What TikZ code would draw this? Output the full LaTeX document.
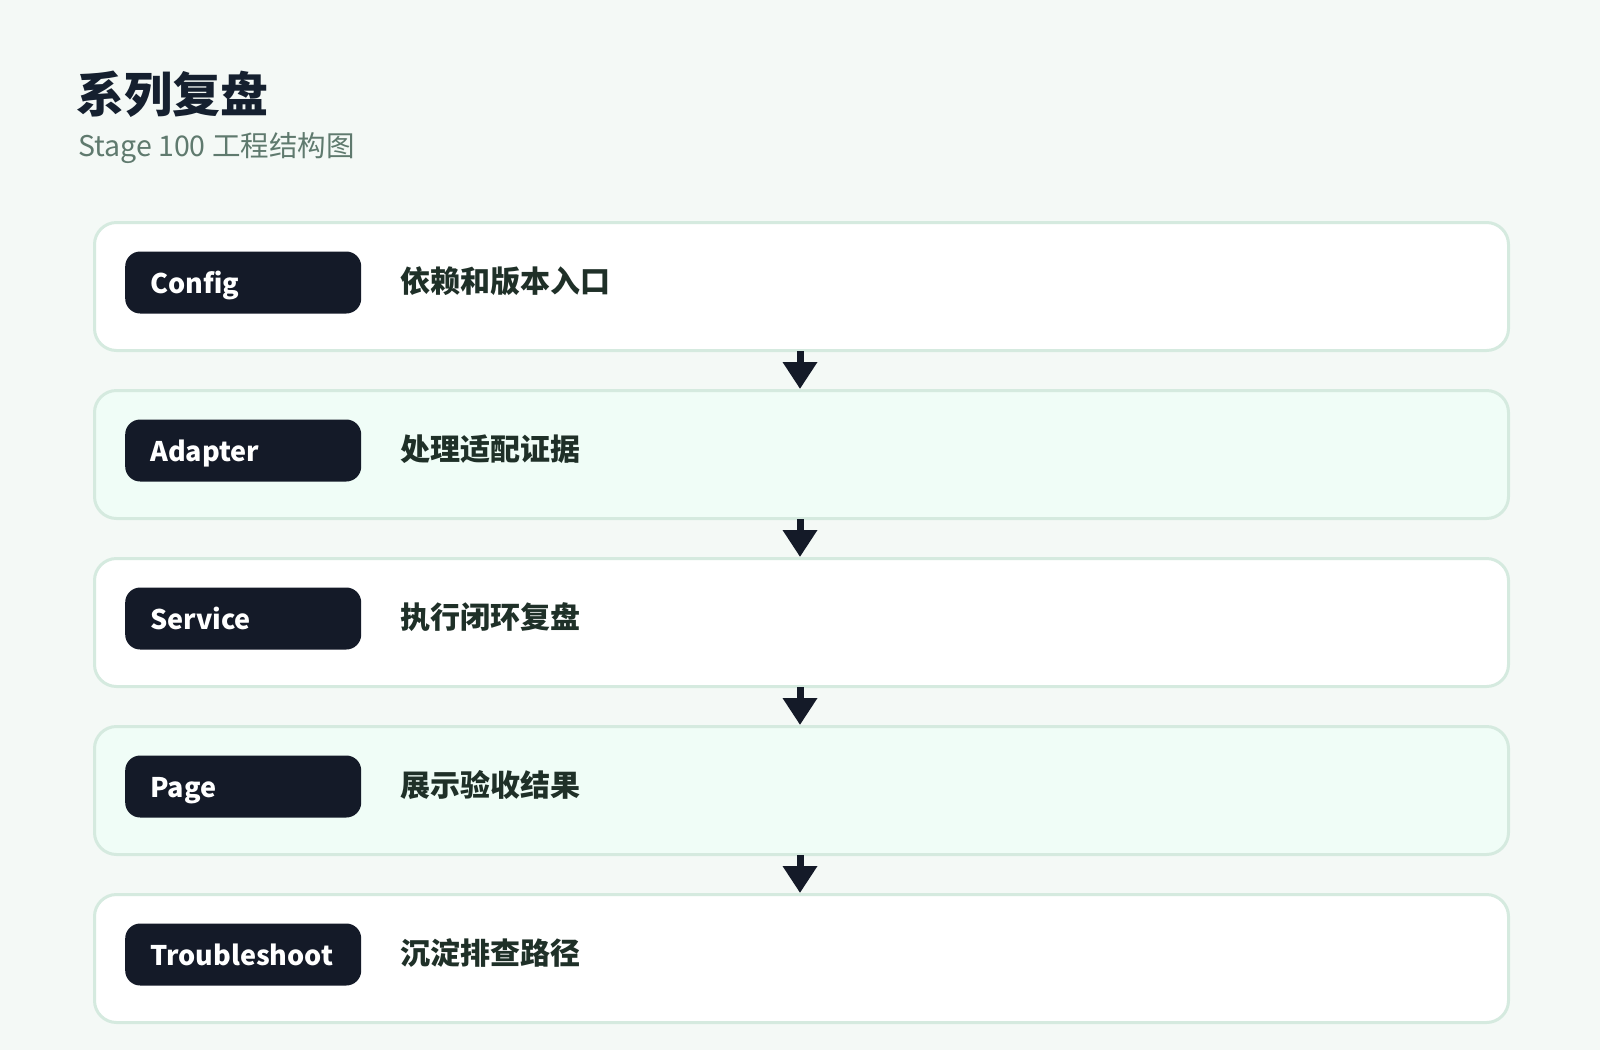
\documentclass[tikz,border=0pt]{standalone}
\usepackage{fontspec}
\setmainfont{Noto Sans CJK SC}
\usetikzlibrary{arrows.meta}
\definecolor{bg}{HTML}{F4F9F6}
\definecolor{cardA}{HTML}{FFFFFF}
\definecolor{cardB}{HTML}{F0FDF7}
\definecolor{cardline}{HTML}{D5EADF}
\definecolor{pillc}{HTML}{141A28}
\definecolor{titlec}{HTML}{15202F}
\definecolor{subc}{HTML}{5F7A6E}
\definecolor{descc}{HTML}{1F3028}
\tikzset{
  card/.style={draw=cardline, line width=3pt, rounded corners=22pt, minimum width=1414pt, minimum height=128pt, anchor=north west, inner sep=0pt},
  pill/.style={fill=pillc, rounded corners=15pt, minimum width=236pt, minimum height=62pt, anchor=west, inner sep=0pt},
  pilltext/.style={text=white, font=\fontsize{27}{32}\selectfont\bfseries, anchor=base west, inner sep=0pt},
  desc/.style={text=descc, font=\fontsize{30}{34}\selectfont\bfseries, anchor=base west, inner sep=0pt},
  flow/.style={draw=pillc, line width=7pt, -{Triangle[width=33pt,length=27pt]}, shorten <=-1pt},
}
\begin{document}
\begin{tikzpicture}[x=1pt,y=-1pt]
\useasboundingbox[fill=bg] (0,0) rectangle (1600,1050);
\node[text=titlec, font=\fontsize{48}{56}\selectfont\bfseries, anchor=base west, inner sep=0pt] (t) at (76,112) {系列复盘};
\node[text=subc, font=\fontsize{28.5}{32}\selectfont, anchor=base west, inner sep=0pt] (s) at (78,156) {Stage 100 工程结构图};
\foreach \i/\lab/\txt/\fc in {1/Config/依赖和版本入口/cardA, 2/Adapter/处理适配证据/cardB, 3/Service/执行闭环复盘/cardA, 4/Page/展示验收结果/cardB, 5/Troubleshoot/沉淀排查路径/cardA}{
  \pgfmathsetmacro{\yy}{221+168*(\i-1)}
  \node[card, fill=\fc] (c\i) at (93,\yy) {};
  \node[pill] (p\i) at ([yshift=4pt]c\i.west -| 125,0) {};
  \node[pilltext] (pt\i) at ([xshift=25pt,yshift=-11pt]p\i.west) {\lab};
  \node[desc] (d\i) at ([yshift=-10pt]p\i.west -| 400,0) {\txt};
}
\foreach \a/\b in {1/2,2/3,3/4,4/5}{
  \draw[flow] (c\a.south -| 800,0) -- (c\b.north -| 800,0);
}
\end{tikzpicture}
\end{document}
